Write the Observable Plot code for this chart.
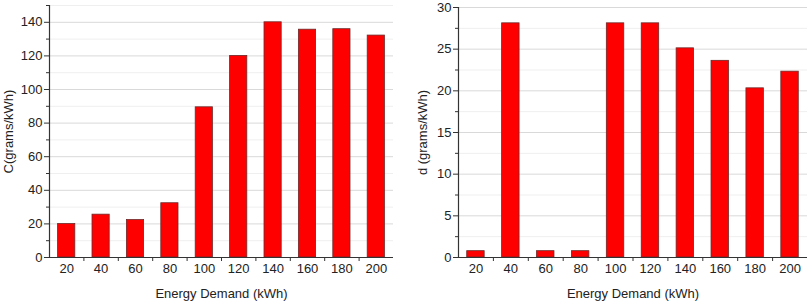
<!DOCTYPE html>
<html>
<head>
<meta charset="utf-8">
<script src="https://cdn.jsdelivr.net/npm/d3@7"></script>
<script src="https://cdn.jsdelivr.net/npm/@observablehq/plot@0.6"></script>
<style>
  html, body { margin: 0; padding: 0; background: #fff; }
  #wrap { display: flex; width: 809px; height: 301px; }
  svg { font-family: "Liberation Sans", Arial, sans-serif; }
</style>
</head>
<body>
<div id="wrap"></div>
<script>
const demand = [20, 40, 60, 80, 100, 120, 140, 160, 180, 200];
const cValues = [19.9, 25.5, 22.3, 32.3, 89.4, 120, 140, 135.6, 135.9, 132.1];
const dValues = [0.76, 28.1, 0.76, 0.76, 28.1, 28.1, 25.1, 23.6, 20.3, 22.3];
const xBoundaries = [30, 50, 70, 90, 110, 130, 150, 170, 190];
const cMajor = [0, 20, 40, 60, 80, 100, 120, 140];
const cMinor = [10, 30, 50, 70, 90, 110, 130, 150];
const dMajor = [0, 5, 10, 15, 20, 25, 30];
const dMinor = [2.5, 7.5, 12.5, 17.5, 22.5, 27.5];

function panel({values, yMax, major, minor, yLabel, width, marginLeft, marginRight, marginTop, labelOffset}) {
  const data = demand.map((x, i) => ({x, y: values[i]}));
  return Plot.plot({
    width, height: 301,
    marginLeft, marginRight, marginTop, marginBottom: 44,
    style: {fontSize: "13px", fontFamily: "Liberation Sans, Arial, sans-serif", color: "#222", background: "#fff"},
    x: {type: "linear", domain: [10, 210]},
    y: {domain: [0, yMax]},
    marks: [
      Plot.gridY(minor, {stroke: "#efefef", strokeOpacity: 1}),
      Plot.gridY(major, {stroke: "#d9d9d9", strokeOpacity: 1}),
      Plot.rectY(data, {x1: d => d.x - 5, x2: d => d.x + 5, y1: 0, y2: "y", fill: "#ff0000", stroke: "#6b2a2a", strokeWidth: 0.8}),
      Plot.axisY(major, {tickSize: 5, tickPadding: 2, fontSize: 13, stroke: "#333", fill: "#222", label: yLabel, labelAnchor: "center", labelArrow: "none", labelOffset}),
      Plot.axisY(minor, {tickSize: 3, tickFormat: () => "", stroke: "#333", label: null}),
      Plot.axisX(demand, {tickSize: 0, tickPadding: 6, fontSize: 13, tickFormat: d => String(d), fill: "#222", label: "Energy Demand (kWh)", labelAnchor: "center", labelArrow: "none", labelOffset: 40}),
      Plot.axisX(xBoundaries, {tickSize: 4, tickFormat: () => "", stroke: "#333", label: null}),
      Plot.ruleY([0], {stroke: "#333", strokeWidth: 1.2}),
      Plot.ruleX([10], {stroke: "#333", strokeWidth: 1.2})
    ]
  });
}

const wrap = document.getElementById("wrap");
wrap.appendChild(panel({values: cValues, yMax: 150, major: cMajor, minor: cMinor, yLabel: "C(grams/kWh)", width: 405, marginLeft: 49, marginRight: 12, marginTop: 5, labelOffset: 46}));
wrap.appendChild(panel({values: dValues, yMax: 30, major: dMajor, minor: dMinor, yLabel: "d (grams/kWh)", width: 404, marginLeft: 53, marginRight: 2, marginTop: 7, labelOffset: 41}));
</script>
</body>
</html>
